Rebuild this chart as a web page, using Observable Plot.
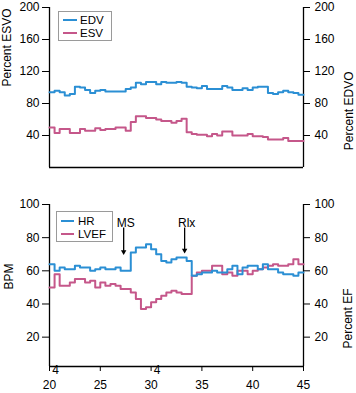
<!DOCTYPE html>
<html><head><meta charset="utf-8">
<script src="https://cdn.jsdelivr.net/npm/d3@7"></script>
<script src="https://cdn.jsdelivr.net/npm/@observablehq/plot@0.6"></script>
<style>
body{margin:0;background:#fff;font-family:"Liberation Sans",Arial,sans-serif;}
#chart{position:relative;width:356px;height:393px;overflow:hidden;}
#chart svg{display:block;}
.legend{position:absolute;border:1px solid #9a9a9a;background:#fff;font-size:11.5px;color:#000;box-sizing:border-box;}
.sw{position:absolute;height:2px;}
.lt{position:absolute;line-height:10px;}
</style></head>
<body><div id="chart"></div>
<script>
// time grid (minutes)
const times = [20,20.5,21,21.5,22,22.5,23,23.5,24,24.5,25,25.5,26,26.5,27,27.5,28,28.5,29,29.5,30,30.5,31,31.5,32,32.5,33,33.5,34,34.5,35,35.5,36,36.5,37,37.5,38,38.5,39,39.5,40,40.5,41,41.5,42,42.5,43,43.5,44,44.5,45];
// top panel (percent)
const edv = [94,96,94,90,92,101,100,97,93,96,97,95,95,95,95,98,100,106,104,107,107,104,107,106,106,107,106,101,100,99,102,98,98,98,102,100,97,97,99,97,100,101,101,93,92,94,96,94,93,91,91];
const esv = [50,43,48,48,43,43,48,46,46,49,47,48,48,50,50,46,57,64,64,62,62,60,58,58,56,58,61,44,42,41,41,39,42,40,45,45,40,40,40,42,39,39,38,35,35,35,37,33,33,33,33];
// bottom panel
const hr = [64,60,62,61,61,63,62,62,60,61,62,61,61,62,60,60,71,74,74,76,73,70,66,65,67,68,68,66,57,58,59,59,60,59,59,61,63,58,62,63,63,61,64,61,61,59,58,58,57,59,59];
const lvef = [50,58,51,51,53,55,55,53,54,50,53,51,52,51,49,49,47,43,37,38,41,43,45,47,48,47,46,46,57,59,60,60,63,63,58,59,57,60,60,58,60,61,62,63,64,63,63,64,67,64,64];
const topTicks = [40,80,120,160,200];
const botTicks = [20,40,60,80,100];
const xTicks = [20,25,30,35,40,45];
const breakMarks = [20,30];
const annotations = [{label:"MS", x:27.3, tx:27.5, top:84, tip:69}, {label:"Rlx", x:33.3, tx:33.5, top:84, tip:70}];

const blue = "#2b8fd4", pink = "#c5578a";
const font = {fontFamily:'"Liberation Sans",Arial,sans-serif', fontSize:"12px", color:"#000", background:"#fff", overflow:"visible"};
const rowsTop = times.map((t,i)=>({t, edv:edv[i], esv:esv[i]}));
const rowsBot = times.map((t,i)=>({t, hr:hr[i], lvef:lvef[i]}));
const yBotMin = 2.3;

const topChart = Plot.plot({
  width:356, height:193, marginLeft:49, marginRight:53, marginTop:7, marginBottom:26,
  style:font,
  x:{domain:[20,45], axis:null},
  y:{domain:[0,200]},
  marks:[
    Plot.axisY({anchor:"left", ticks:topTicks, tickSize:7, tickPadding:3, label:null}),
    Plot.axisY({anchor:"right", ticks:topTicks, tickSize:6, tickPadding:5, label:null}),
    Plot.ruleX([20,45], {stroke:"#000", strokeWidth:1.3}),
    Plot.ruleY([0], {stroke:"#000", strokeWidth:1.3}),
    Plot.line(rowsTop, {x:"t", y:"esv", curve:"step-after", stroke:pink, strokeWidth:2}),
    Plot.line(rowsTop, {x:"t", y:"edv", curve:"step-after", stroke:blue, strokeWidth:2}),
    Plot.text(["Percent ESVO"], {text:d=>d, frameAnchor:"left", dx:-42, dy:-1, rotate:-90, fill:"#000"}),
    Plot.text(["Percent EDVO"], {text:d=>d, frameAnchor:"right", dx:46, dy:-16, rotate:-90, fill:"#000"})
  ]
});

const botChart = Plot.plot({
  width:356, height:200, marginLeft:49, marginRight:53, marginTop:11, marginBottom:27,
  style:font,
  x:{domain:[20,45]},
  y:{domain:[yBotMin,100]},
  marks:[
    Plot.axisY({anchor:"left", ticks:botTicks, tickSize:7, tickPadding:3, label:null}),
    Plot.axisY({anchor:"right", ticks:botTicks, tickSize:6, tickPadding:5, label:null}),
    Plot.axisX({ticks:xTicks, tickSize:5, tickPadding:9, label:null}),
    Plot.ruleX([20,45], {stroke:"#000", strokeWidth:1.3}),
    Plot.ruleY([yBotMin], {stroke:"#000", strokeWidth:1.3}),
    Plot.text(breakMarks, {x:d=>d, text:()=>"4", frameAnchor:"bottom", dx:6, dy:7, fill:"#000"}),
    Plot.line(rowsBot, {x:"t", y:"lvef", curve:"step-after", stroke:pink, strokeWidth:2}),
    Plot.line(rowsBot, {x:"t", y:"hr", curve:"step-after", stroke:blue, strokeWidth:2}),
    Plot.ruleX(annotations, {x:"x", y1:"top", y2:"tip", stroke:"#000", strokeWidth:1.3, dy:-3}),
    Plot.dot(annotations, {x:"x", y:"tip", symbol:"triangle2", rotate:180, r:2.6, fill:"#000", stroke:null, dy:-4}),
    Plot.text(annotations, {x:"tx", y:88.5, text:"label", fill:"#000"}),
    Plot.text(["BPM"], {text:d=>d, frameAnchor:"left", dx:-40.5, dy:4, rotate:-90, fill:"#000"}),
    Plot.text(["Percent EF"], {text:d=>d, frameAnchor:"right", dx:45, dy:3, rotate:-90, fill:"#000"})
  ]
});

const chart = document.getElementById("chart");
chart.appendChild(topChart);
chart.appendChild(botChart);

function legend(left, topPx, w, h, items, swW){
  const box = document.createElement("div");
  box.className = "legend";
  Object.assign(box.style, {left:left+"px", top:topPx+"px", width:w+"px", height:h+"px"});
  items.forEach(([name,color,cy])=>{
    const s = document.createElement("div");
    s.className = "sw";
    Object.assign(s.style, {left:"4px", top:(cy-1)+"px", width:swW+"px", background:color});
    const t = document.createElement("div");
    t.className = "lt";
    t.textContent = name;
    Object.assign(t.style, {left:"21px", top:(cy-5)+"px"});
    box.appendChild(s); box.appendChild(t);
  });
  chart.appendChild(box);
}
legend(58, 11, 54, 30, [["EDV", blue, 7.5], ["ESV", pink, 20.5]], 14);
legend(56, 211, 57, 31, [["HR", blue, 8.5], ["LVEF", pink, 21.5]], 13);
</script></body></html>
